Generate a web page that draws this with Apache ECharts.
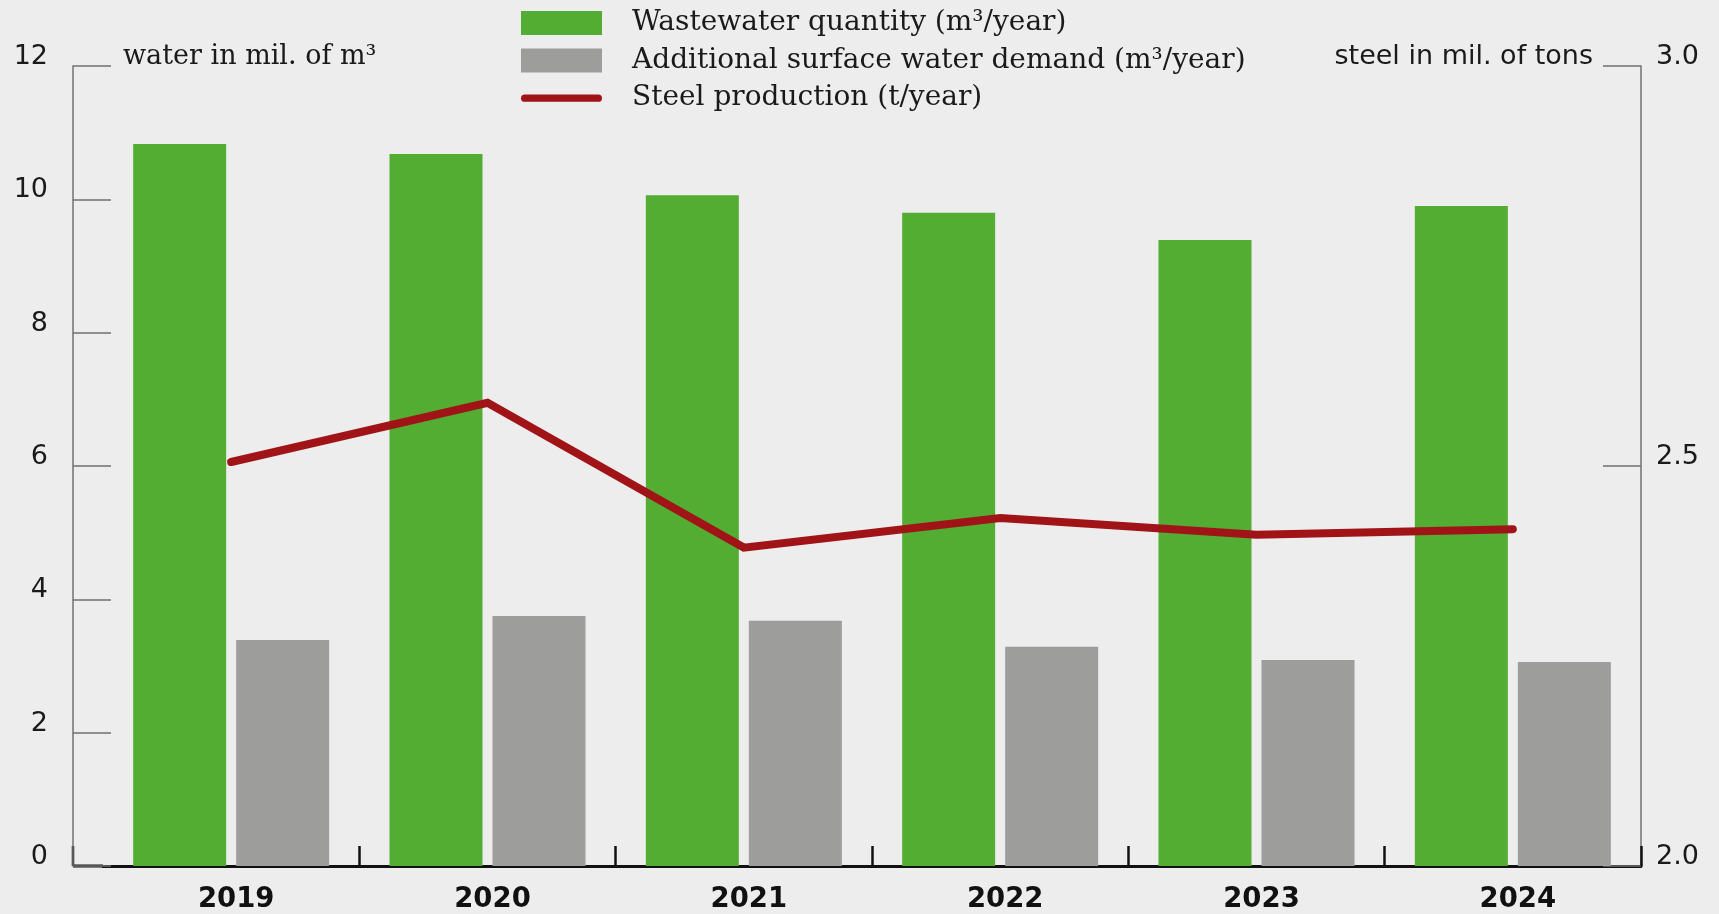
<!DOCTYPE html>
<html>
<head>
  <meta charset="utf-8">
  <title>Wastewater and steel production</title>
  <script src="https://cdn.jsdelivr.net/npm/echarts@6/dist/echarts.min.js"></script>
  <style>
    html, body { margin: 0; padding: 0; background: #ededed; }
    #chart { width: 1719px; height: 914px; }
  </style>
</head>
<body>
<div id="chart"></div>
<script>
  // data
  const years = ['2019', '2020', '2021', '2022', '2023', '2024']
  const wastewater = [10.83, 10.68, 10.06, 9.80, 9.39, 9.90]
  const surfaceDemand = [3.39, 3.75, 3.68, 3.29, 3.09, 3.06]
  const steel = [2.505, 2.579, 2.398, 2.435, 2.414, 2.421]

  const names = ['Wastewater quantity (m³/year)', 'Additional surface water demand (m³/year)', 'Steel production (t/year)']

  // layout
  const W = 1719, H = 914
  const gridLeft = 103, gridRight = 78, gridTop = 66, gridBottom = 48
  const yAxisOffset = 30
  const sans = 'DejaVu Sans'
  const serif = 'DejaVu Serif'

  let chart = echarts.init(document.getElementById('chart'))
  const baseY = H - gridBottom
  const axisX = gridLeft - yAxisOffset

  chart.setOption({
    backgroundColor: '#ededed',
    animation: false,
    grid: { left: gridLeft, right: gridRight, top: gridTop, bottom: gridBottom },
    legend: {
      orient: 'vertical',
      left: 521,
      top: 9,
      padding: 0,
      itemWidth: 81,
      itemHeight: 24,
      itemGap: 9.6,
      textStyle: { fontFamily: serif, fontSize: 28, color: '#1a1a1a', padding: [0, 0, 0, 25] },
      data: [
        { name: names[0], icon: 'rect' },
        { name: names[1], icon: 'rect' },
        { name: names[2], icon: 'path://M4,0L85,0A4,4,0,0,1,85,8L4,8A4,4,0,0,1,4,0Z' }
      ]
    },
    xAxis: {
      type: 'category',
      data: years,
      boundaryGap: true,
      axisLine: { lineStyle: { color: '#111', width: 3 } },
      axisTick: {
        show: true, inside: true, length: 20,
        // first boundary sits on the offset y axis instead
        interval: function (i, label) { return label !== years[0] },
        lineStyle: { color: '#111', width: 2.5 }
      },
      axisLabel: { fontFamily: sans, fontWeight: 'bold', fontSize: 27.5, color: '#111', margin: 20, padding: [0, 0, 0, 10] }
    },
    yAxis: [
      {
        type: 'value',
        position: 'left',
        offset: yAxisOffset,
        min: 0, max: 12, interval: 2,
        name: 'water in mil. of m³',
        nameLocation: 'end',
        nameGap: 0,
        nameTextStyle: { fontFamily: serif, fontSize: 27, color: '#1a1a1a', align: 'left', verticalAlign: 'bottom', lineHeight: 18, padding: [0, 0, 0, 50] },
        axisLine: { show: true, lineStyle: { color: '#707070', width: 1.5 } },
        axisTick: { show: true, inside: true, length: 38, lineStyle: { color: '#707070', width: 1.5 } },
        axisLabel: { fontFamily: sans, fontSize: 27, color: '#1a1a1a', margin: 25, verticalAlign: 'bottom', lineHeight: 18 },
        splitLine: { show: false }
      },
      {
        type: 'value',
        position: 'right',
        min: 2, max: 3, interval: 0.5,
        name: 'steel in mil. of tons',
        nameLocation: 'end',
        nameGap: 0,
        nameTextStyle: { fontFamily: sans, fontSize: 27, color: '#1a1a1a', align: 'right', verticalAlign: 'bottom', lineHeight: 18, padding: [0, 48, 0, 0] },
        axisLine: { show: true, lineStyle: { color: '#707070', width: 1.5 } },
        axisTick: { show: true, inside: true, length: 38, lineStyle: { color: '#707070', width: 1.5 } },
        axisLabel: { fontFamily: sans, fontSize: 27, color: '#1a1a1a', margin: 15, verticalAlign: 'bottom', lineHeight: 18, formatter: v => v.toFixed(1) },
        splitLine: { show: false }
      }
    ],
    series: [
      {
        name: names[0],
        type: 'bar',
        yAxisIndex: 0,
        barWidth: 93,
        barGap: '10.75%',
        itemStyle: { color: '#52ad32' },
        data: wastewater
      },
      {
        name: names[1],
        type: 'bar',
        yAxisIndex: 0,
        barWidth: 93,
        barGap: '10.75%',
        itemStyle: { color: '#9d9d9b' },
        data: surfaceDemand
      },
      {
        name: names[2],
        type: 'line',
        yAxisIndex: 1,
        symbol: 'none',
        z: 5,
        itemStyle: { color: '#a01417' },
        lineStyle: { color: '#a01417', width: 8, cap: 'round', join: 'miter' },
        data: steel
      }
    ],
    // x axis line runs on to the offset left axis, with a tick at its start
    graphic: [
      { type: 'line', shape: { x1: axisX, y1: baseY, x2: gridLeft, y2: baseY }, style: { stroke: '#111', lineWidth: 3 } },
      { type: 'line', shape: { x1: axisX, y1: baseY - 20, x2: axisX, y2: baseY }, style: { stroke: '#111', lineWidth: 2.5 } }
    ]
  })
</script>
</body>
</html>
